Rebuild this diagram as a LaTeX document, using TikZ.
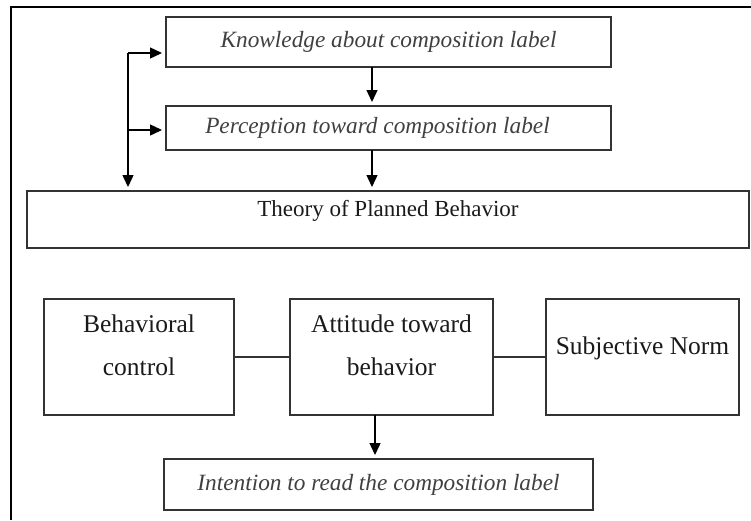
\documentclass[tikz,border=0pt]{standalone}
\usepackage{fontspec}
\setmainfont{Liberation Serif}
\usetikzlibrary{arrows.meta,calc}
\definecolor{boxline}{HTML}{333333}
\definecolor{ittext}{HTML}{404040}
\definecolor{rmtext}{HTML}{1A1A1A}
\tikzset{
  box/.style={draw=boxline, line width=1.1pt, inner sep=0pt, outer sep=0pt},
  itbox/.style={box, font=\fontsize{23.3}{27}\selectfont\itshape, text=ittext},
  rmlab/.style={font=\fontsize{25.5}{43}\selectfont, text=rmtext, align=center, inner sep=0pt},
  arr/.style={line width=1.4pt, -{Triangle[length=12pt,width=11pt]}, shorten >=4pt},
  link/.style={line width=1.1pt, draw=boxline},
}
\begin{document}
\begin{tikzpicture}[x=1pt,y=-1pt]
\useasboundingbox (0,0) rectangle (751,520);
% outer frame (top and left visible)
\draw[line width=2pt] (11,520) -- (11,7) -- (751,7);
% boxes
\node[itbox, minimum width=445pt, minimum height=50pt] (K) at (388.5,42) {Knowledge about composition label};
\node[itbox, minimum width=445pt, minimum height=44pt] (P) at (388.5,128) {\hspace*{-22pt}Perception toward composition label};
\node[box, minimum width=722pt, minimum height=57pt,
  label={[rmlab, font=\fontsize{23}{28}\selectfont, anchor=north, yshift=-9pt]north:Theory of Planned Behavior}] (T) at (388,219.5) {};
\node[box, minimum width=190pt, minimum height=116pt,
  label={[rmlab, anchor=north, yshift=-16pt]north:Behavioral\\control}] (BC) at (139,357) {};
\node[box, minimum width=203pt, minimum height=116pt,
  label={[rmlab, anchor=north, yshift=-16pt]north:Attitude toward\\behavior}] (AT) at (391.5,357) {};
\node[box, minimum width=193pt, minimum height=116pt,
  label={[rmlab, anchor=north, yshift=-38pt]north:Subjective Norm}] (SN) at (642.5,357) {};
\node[itbox, minimum width=429pt, minimum height=51pt] (IN) at (378.5,484.5) {Intention to read the composition label};
% connectors
\coordinate (ax) at (372,0);
\coordinate (fb) at (128,53);
\coordinate (fb2) at (128,130);
\coordinate (ay) at (375,0);
\draw[arr] (K.south -| ax) -- (P.north -| ax);
\draw[arr] (P.south -| ax) -- (T.north -| ax);
\draw[arr] (fb) -- (fb -| K.west);
\draw[arr] (fb2) -- (fb2 -| P.west);
\draw[arr] (fb) -- (fb |- T.north);
\draw[link] (BC.east) -- (AT.west);
\draw[link] (AT.east) -- (SN.west);
\draw[arr] (AT.south -| ay) -- (IN.north -| ay);
\end{tikzpicture}
\end{document}
